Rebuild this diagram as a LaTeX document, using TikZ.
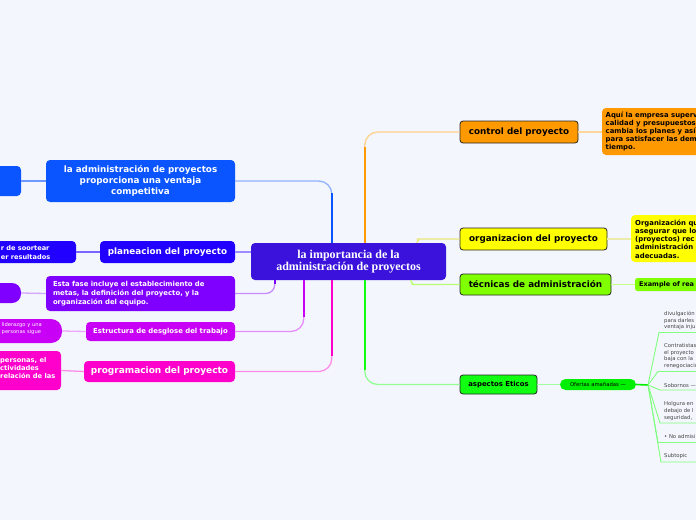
\documentclass[tikz,border=0pt]{standalone}
\usepackage{fontspec}
\setmainfont{DejaVu Sans}
\newfontfamily\cserif{Liberation Serif}
\definecolor{bgc}{HTML}{F3F6FD}
\definecolor{cenc}{HTML}{3A12DB}
\definecolor{admc}{HTML}{0A55FF}
\definecolor{planc}{HTML}{2200FF}
\definecolor{purc}{HTML}{8000FF}
\definecolor{estc}{HTML}{C800F5}
\definecolor{progc}{HTML}{FF00CC}
\definecolor{ctrlc}{HTML}{FF9900}
\definecolor{orgc}{HTML}{FFFF00}
\definecolor{tecc}{HTML}{80FF00}
\definecolor{aspc}{HTML}{11FF11}
\definecolor{ofec}{HTML}{00EE00}
\definecolor{subc}{HTML}{444444}
\tikzset{
  lbox/.style={rounded corners=4pt, inner sep=0pt, align=center, text=white,
    font=\fontsize{8.8}{11}\selectfont\bfseries},
  rbox/.style={rounded corners=3pt, inner sep=0pt, align=center, text=black,
    draw=black!85, line width=0.8pt, font=\fontsize{8.8}{11}\selectfont\bfseries},
  cbox/.style={rounded corners=4pt, inner sep=0pt},
  wtext/.style={inner sep=0pt, align=left, text=white},
  btext/.style={inner sep=0pt, align=left, text=black, anchor=west,
    font=\fontsize{6.9}{8.2}\selectfont\bfseries},
  subt/.style={inner sep=0pt, align=left, text=subc, anchor=west,
    font=\fontsize{5.3}{6.7}\selectfont},
  vline/.style={line width=1.8pt},
  hline/.style={line width=1.3pt, rounded corners=13pt},
  sline/.style={line width=0.9pt, color=green!50},
}
\begin{document}
\begin{tikzpicture}[x=1pt,y=-1pt]
\useasboundingbox (0,0) rectangle (696,520);
\fill[bgc] (0,0) rectangle (696,520);
\clip (0,0) rectangle (696,520);

% ---------- nodes ----------
\node[lbox, fill=cenc, minimum width=195pt, minimum height=37pt,
  font=\cserif\bfseries\fontsize{12}{11.5}\selectfont] (cen) at (348.5,261.5)
  {la importancia de la\\administración de proyectos};

% left side
\node[lbox, fill=admc, minimum width=189pt, minimum height=42pt] (adm) at (140.5,181)
  {la administración de proyectos\\proporciona una ventaja\\competitiva};
\node[cbox, fill=admc, minimum width=41pt, minimum height=30pt] (admL) at (0.5,181) {};

\node[lbox, fill=planc, minimum width=135pt, minimum height=22pt] (plan) at (167.5,252)
  {planeacion del proyecto};
\node[cbox, fill=planc, minimum width=96pt, minimum height=22pt] (planL) at (28,252) {};
\node[wtext, anchor=east, font=\fontsize{6.6}{9}\selectfont\bfseries] (planT) at (50.5,252.5)
  {r de soortear\\er resultados};

\node[lbox, fill=purc, minimum width=189pt, minimum height=35pt, align=left,
  text width=175pt, font=\fontsize{6.9}{9}\selectfont\bfseries] (pur) at (140.5,293.5)
  {Esta fase incluye el establecimiento de\\metas, la definición del proyecto, y la\\organización del equipo.};
\node[cbox, rounded corners=9pt, fill=purc, minimum width=41pt, minimum height=20pt] (purL) at (0.5,293) {};

\node[lbox, fill=estc, minimum width=149pt, minimum height=19pt,
  font=\fontsize{6.9}{8}\selectfont\bfseries] (est) at (160.5,331.5)
  {Estructura de desglose del trabajo};
\node[cbox, rounded corners=11pt, fill=estc, minimum width=82pt, minimum height=24pt] (estL) at (21,331) {};
\node[wtext, anchor=west, font=\fontsize{5.2}{7}\selectfont] (estT) at (1.5,329)
  {liderazgo y una\\personas sigue};

\node[lbox, fill=progc, minimum width=151pt, minimum height=21pt,
  font=\fontsize{9}{11}\selectfont\bfseries] (prog) at (159.5,371.5)
  {programacion del proyecto};
\node[cbox, fill=progc, minimum width=81pt, minimum height=39pt] (progL) at (20.5,370.5) {};
\node[wtext, anchor=west, font=\fontsize{6.7}{8}\selectfont\bfseries] (progT) at (0,367.5)
  {personas, el\\ctividades\\relación de las};

% right side
\node[rbox, fill=ctrlc, minimum width=118pt, minimum height=22pt] (ctrl) at (519,132)
  {control del proyecto};
\node[cbox, fill=ctrlc, minimum width=118pt, minimum height=47pt] (ctrlC) at (661,131.5) {};
\node[btext] (ctrlT) at (605.5,131.5)
  {Aquí la empresa superv\\calidad y presupuestos\\cambia los planes y así\\para satisfacer las dem\\tiempo.};

\node[rbox, fill=orgc, minimum width=147pt, minimum height=22pt] (org) at (533.5,239)
  {organizacion del proyecto};
\node[cbox, fill=orgc, minimum width=89pt, minimum height=47pt] (orgC) at (675.5,238.5) {};
\node[btext] (orgT) at (635,239)
  {Organización qu\\asegurar que lo\\(proyectos) rec\\administración\\adecuadas.};

\node[rbox, fill=tecc, minimum width=151pt, minimum height=21pt] (tec) at (535.5,284.5)
  {técnicas de administración};
\node[cbox, rounded corners=2.5pt, fill=tecc, minimum width=85pt, minimum height=13pt] (tecC) at (677.5,284.5) {};
\node[btext, font=\fontsize{6.5}{8}\selectfont\bfseries] (tecT) at (639,285) {Example of rea};

\node[rbox, fill=aspc, minimum width=77pt, minimum height=19pt,
  font=\fontsize{6.9}{8}\selectfont\bfseries] (asp) at (498.5,384.5)
  {aspectos Eticos};
\node[cbox, rounded corners=5.5pt, fill=ofec, minimum width=76pt, minimum height=11pt,
  font=\fontsize{5.3}{6}\selectfont] (ofe) at (598,384.5) {Ofertas amañadas —};

% subtopics
\node[subt] (s1) at (664,320.5) {divulgación\\para darles\\ventaja inju};
\node[subt] (s2) at (664,356) {Contratistas\\el proyecto\\baja con la\\renegociació};
\node[subt] (s3) at (664,385.5) {Sobornos —};
\node[subt] (s4) at (664,411) {Holgura en\\debajo de l\\seguridad,};
\node[subt] (s5) at (664,437) {• No admisi};
\node[subt] (s6) at (664,456.5) {Subtopic};

% ---------- connectors ----------
% blue
\draw[hline, color=admc!45] ([xshift=81pt]cen.north west) |- (adm.east);
\draw[vline, color=admc] ([xshift=81pt]cen.north west) -- ++(0,-50);
% orange
\draw[hline, color=ctrlc!45] ([xshift=114pt]cen.north west) |- (ctrl.west);
\draw[vline, color=ctrlc] ([xshift=114pt]cen.north west) -- ++(0,-96);
% green
\draw[hline, color=aspc!45] ([xshift=114pt]cen.south west) |- (asp.west);
\draw[vline, color=aspc] ([xshift=114pt]cen.south west) -- ++(0,90);
% purple
\draw[hline, rounded corners=9pt, color=purc!45] ([xshift=24pt]cen.south west) |- (pur.east);
\draw[vline, color=purc] ([xshift=24pt]cen.south west) -- ++(0,4);
% estructura
\draw[hline, color=estc!45] ([xshift=53pt]cen.south west) |- (est.east);
\draw[vline, color=estc] ([xshift=53pt]cen.south west) -- ++(0,37);
% programacion
\draw[hline, color=progc!45] ([xshift=81pt]cen.south west) |- (prog.east);
\draw[vline, color=progc] ([xshift=81pt]cen.south west) -- ++(0,76);
% planeacion
\draw[hline, color=planc!45] (plan.east) -- (plan.east -| cen.west);
% yellow
\draw[hline, color=orgc!70!gray!60] ([xshift=166pt]cen.north west)
  .. controls +(0,-3) and +(-7,0) .. ([xshift=-30pt]org.west) -- (org.west);
% lime
\draw[hline, color=tecc!55] ([xshift=160pt]cen.south west)
  .. controls +(0,4) and +(-8,0) .. ([xshift=-35pt]tec.west) -- (tec.west);

% left partial links
\draw[hline, color=admc!60] (admL.east) -- (adm.west);
\draw[hline, color=planc!60] (planL.east) -- (plan.west);
\draw[hline, color=purc!35] (purL.east) -- (pur.west);
\draw[hline, color=estc!35] (estL.east) -- (est.west);
\draw[hline, color=progc!45] (progL.east) -- (prog.west);

% right child links
\draw[hline, color=ctrlc!40] (ctrl.east) -- (ctrl.east -| ctrlC.west);
\draw[hline, color=orgc!60!gray!40] (org.east) -- (org.east -| orgC.west);
\draw[hline, color=tecc!45] (tec.east) -- (tec.east -| tecC.west);
\draw[hline, color=aspc!40] (asp.east) -- (ofe.west);

% subtopic fan
\coordinate (br) at (648,385);
\draw[line width=1.6pt, color=ofec] (ofe.east) -- (br);
\draw[sline] (br) -- (659,332.5) -- (700,332.5);
\draw[sline] (br) -- (658,371.5) -- (700,371.5);
\draw[sline] (br) -- (660,390) -- (700,390);
\draw[sline] (br) -- (660,423) -- (700,423);
\draw[sline] (br) -- (658,442.5) -- (700,442.5);
\draw[sline] (br) -- (661,462) -- (700,462);
\end{tikzpicture}
\end{document}
